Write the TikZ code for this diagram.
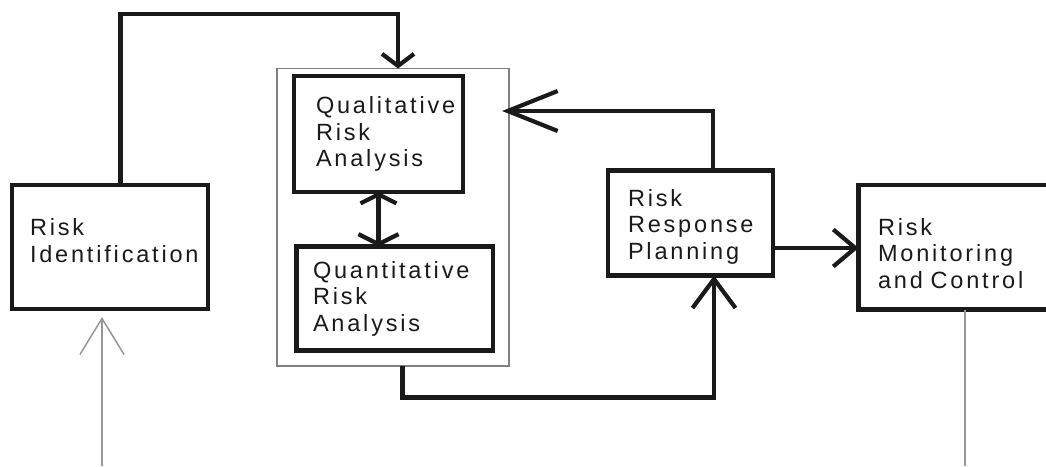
\documentclass[tikz,border=0pt]{standalone}
\usepackage{fontspec}
\usepackage{xcolor}
\usepackage{tikz}
\usetikzlibrary{arrows.meta}
\newfontfamily\boxfont[LetterSpace=12]{Liberation Sans}
\definecolor{ink}{RGB}{26, 26, 26}
\definecolor{feedgray}{RGB}{150, 150, 150}
\begin{document}
\begin{tikzpicture}[
  x=1pt, y=-1pt,
  stage/.style={draw=ink, line width=4.5pt, anchor=north west, align=left, outer sep=0pt, inner ysep=0pt, text=ink, font=\boxfont\fontsize{23.5}{26.5}\selectfont},
  group/.style={draw=feedgray!85!black, line width=1.2pt, anchor=north west, outer sep=0pt, inner sep=0pt},
  conn/.style={draw=ink, line width=4.2pt},
  feed/.style={draw=feedgray, line width=1.5pt}
]
\clip (0,0) rectangle (1046,466);
\node[group, minimum width=232pt, minimum height=297.5pt] (grp) at (277,68.5) {};
\node[stage, inner xsep=18pt, text width=160pt, minimum height=124pt] (ident) at (12,185) {Risk\\Identification\rule[-13pt]{0pt}{0pt}};
\node[stage, inner xsep=22pt, text width=125pt, minimum height=116pt] (qual) at (294,76) {Qualitative\\Risk\\Analysis};
\node[stage, inner xsep=16.5pt, text width=163.5pt, minimum height=104pt] (quant) at (296.5,246.5) {Quantitative\\Risk\\Analysis};
\node[stage, inner xsep=20pt, text width=125pt, minimum height=105pt] (resp) at (608,170.5) {\rule{0pt}{24pt}Risk\\Response\\Planning};
\node[stage, inner xsep=19.5pt, text width=171pt, minimum height=124.5pt] (monit) at (858.5,185) {\rule{0pt}{29pt}Risk\\Monitoring\\and Control};
\coordinate (topbend) at (398,14);
\coordinate (retn) at (502,111);
\coordinate (inflow) at (102,466);
\coordinate (outflow) at (965,466);

\draw[conn,-{Straight Barb[length=12,width=32]}] ([xshift=108.5]ident.north west) |- (topbend) -- (topbend |- grp.north);
\draw[conn,{Straight Barb[length=9,width=36]}-{Straight Barb[length=10,width=40]}] ([xshift=84.5]qual.south west) coordinate (dbl) -- (dbl |- quant.north);
\draw[conn,-{Straight Barb[length=29,width=43]}] ([xshift=125.5]grp.south west) -- ++(0,31.5) -| ([xshift=106]resp.south west);
\draw[conn,-{Straight Barb[length=50,width=40]},shorten >=-7pt] ([xshift=105]resp.north west) |- (grp.east |- retn);
\draw[conn,-{Straight Barb[length=22,width=37]}] ([yshift=-77.5]resp.north east) coordinate (rr) -- (rr -| monit.west);
\draw[feed,-{Straight Barb[length=36,width=44]},shorten >=8pt] (inflow) -- (inflow |- ident.south);
\draw[feed] (outflow |- monit.south) -- (outflow);
\end{tikzpicture}
\end{document}
